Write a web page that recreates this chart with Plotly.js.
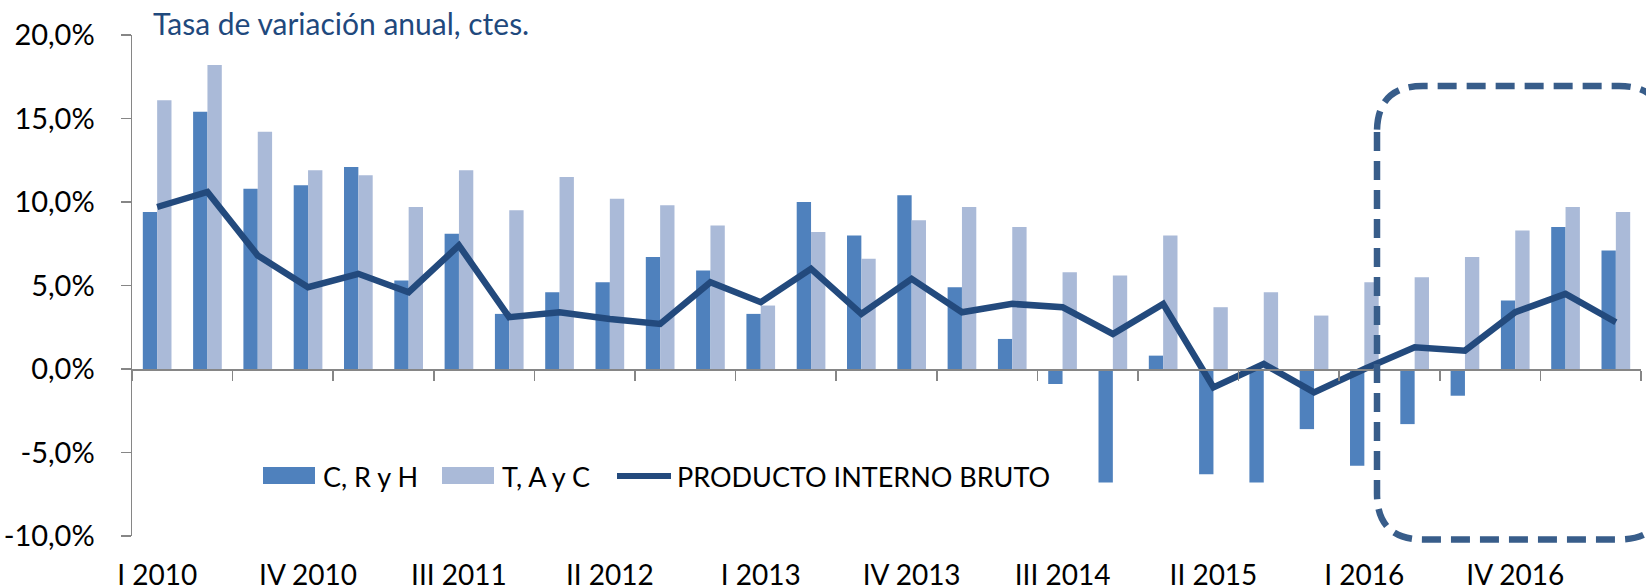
<!DOCTYPE html>
<html><head><meta charset="utf-8">
<script src="https://cdn.plot.ly/plotly-3.0.1.min.js"></script>
<style>html,body{margin:0;padding:0;background:#fff}#chart{width:1646px;height:588px}</style>
</head><body><div id="chart"></div>
<script>
const quarters = ['I 2010','II 2010','III 2010','IV 2010','I 2011','II 2011','III 2011','IV 2011',
  'I 2012','II 2012','III 2012','IV 2012','I 2013','II 2013','III 2013','IV 2013',
  'I 2014','II 2014','III 2014','IV 2014','I 2015','II 2015','III 2015','IV 2015',
  'I 2016','II 2016','III 2016','IV 2016','I 2017','II 2017'];
const cryh = [9.4,15.4,10.8,11.0,12.1,5.3,8.1,3.3,4.6,5.2,6.7,5.9,3.3,10.0,8.0,10.4,
  4.9,1.8,-0.9,-6.8,0.8,-6.3,-6.8,-3.6,-5.8,-3.3,-1.6,4.1,8.5,7.1];
const tayc = [16.1,18.2,14.2,11.9,11.6,9.7,11.9,9.5,11.5,10.2,9.8,8.6,3.8,8.2,6.6,8.9,
  9.7,8.5,5.8,5.6,8.0,3.7,4.6,3.2,5.2,5.5,6.7,8.3,9.7,9.4];
const pib = [9.7,10.6,6.8,4.9,5.7,4.6,7.4,3.1,3.4,3.0,2.7,5.2,4.0,6.0,3.3,5.4,
  3.4,3.9,3.7,2.1,3.9,-1.1,0.3,-1.4,0.0,1.3,1.1,3.4,4.5,2.8];
const seriesNames = ['C, R y H','T, A y C','PRODUCTO INTERNO BRUTO'];
const chartTitle = 'Tasa de variación anual, ctes.';
const yTickVals = [-10,-5,0,5,10,15,20];
const yTickText = ['-10,0%','-5,0%','0,0%','5,0%','10,0%','15,0%','20,0%'];
const labelEvery = 3;
const tickEvery = 2;

const colDark = '#4F81BD', colLight = '#AABAD8', colLine = '#234A7D', colBox = '#385D8A';
const axisGray = '#868686';
const FONT = 'Lato, "Open Sans", sans-serif';

const xs = quarters.map((_, i) => i);
const labelIdx = xs.filter(i => i % labelEvery === 0);
const labelTxt = labelIdx.map(i => quarters[i]);
const boundaries = [];
for (let b = -0.5; b <= quarters.length - 0.5; b += tickEvery) boundaries.push(b);

const traces = [
  {type:'bar', x: xs, y: cryh, name: seriesNames[0], marker:{color: colDark}, hoverinfo:'y'},
  {type:'bar', x: xs, y: tayc, name: seriesNames[1], marker:{color: colLight}, hoverinfo:'y'},
  {type:'scatter', mode:'lines', x: xs, y: pib, name: seriesNames[2],
   line:{color: colLine, width: 6.5}, hoverinfo:'y'}
];

// plot geometry helpers (paper coords from pixel positions)
const L = 132, R = 5, T = 35, B = 52, W = 1646, H = 588;
const pw = W - L - R, ph = H - T - B;
const px = v => (v - L) / pw;
const py = v => (H - B - v) / ph;

// legend (custom, Excel-like)
const legY = 476;
const shapes = [
  {type:'rect', xref:'paper', yref:'paper', x0:px(263), x1:px(315), y0:py(484), y1:py(467),
   fillcolor: colDark, line:{width:0}},
  {type:'rect', xref:'paper', yref:'paper', x0:px(442), x1:px(494), y0:py(484), y1:py(467),
   fillcolor: colLight, line:{width:0}},
  {type:'line', xref:'paper', yref:'paper', x0:px(617), x1:px(671), y0:py(legY), y1:py(legY),
   line:{color: colLine, width:6}}
];
// dashed rounded box highlighting the last quarters
(function(){
  const l = px(1377), r = px(1665), t = py(86), b = py(539.5);
  const rx = 46 / pw, ry = 46 / ph;
  const path = `M${l},${t-ry} L${l},${b+ry} Q${l},${b} ${l+rx},${b} L${r-rx},${b} Q${r},${b} ${r},${b+ry} ` +
    `L${r},${t-ry} Q${r},${t} ${r-rx},${t} L${l+rx},${t} Q${l},${t} ${l},${t-ry} Z`;
  shapes.push({type:'path', xref:'paper', yref:'paper', path: path,
    line:{color: colBox, width:6.5, dash:'19px,10px'}, fillcolor:'rgba(0,0,0,0)', layer:'above'});
})();

const annotations = [
  {xref:'paper', yref:'paper', x:px(321), y:py(legY), xanchor:'left', yanchor:'middle', showarrow:false,
   text: seriesNames[0], font:{family:FONT, size:27, color:'#000'}},
  {xref:'paper', yref:'paper', x:px(500), y:py(legY), xanchor:'left', yanchor:'middle', showarrow:false,
   text: seriesNames[1], font:{family:FONT, size:27, color:'#000'}},
  {xref:'paper', yref:'paper', x:px(675), y:py(legY), xanchor:'left', yanchor:'middle', showarrow:false,
   text: seriesNames[2], font:{family:FONT, size:27, color:'#000'}}
];

const layout = {
  width: W, height: H,
  margin: {l:L, r:R, t:T, b:B, pad:0},
  paper_bgcolor:'#fff', plot_bgcolor:'#fff',
  showlegend: false,
  barmode: 'group', bargap: 0.43, bargroupgap: 0,
  title: {text: chartTitle, font:{family:FONT, size:30, color:'#1F497D'},
    xref:'container', x: 153/W, xanchor:'left', yref:'container', y: 1 - 24/H, yanchor:'middle'},
  xaxis: {type:'linear', range:[-0.5, quarters.length - 0.5], anchor:'free', position: 10/30,
    showline:true, linecolor: axisGray, linewidth:1.5, showgrid:false, zeroline:false,
    tickmode:'array', tickvals: labelIdx, ticktext: labelTxt, ticks:'',
    ticklabelstandoff: 181, tickfont:{family:FONT, size:28, color:'#000'},
    minor:{tickmode:'array', tickvals: boundaries, ticks:'outside', ticklen:10,
      tickcolor: axisGray, tickwidth:1.5, showgrid:false}},
  yaxis: {range:[-10, 20], tickmode:'array', tickvals: yTickVals, ticktext: yTickText,
    showline:true, linecolor: axisGray, linewidth:1.5, ticks:'outside', ticklen:10,
    tickcolor: axisGray, tickwidth:1.5, showgrid:false, zeroline:false,
    ticklabelstandoff: 20, tickfont:{family:FONT, size:29, color:'#000'}},
  shapes: shapes,
  annotations: annotations
};

Plotly.newPlot('chart', traces, layout, {displayModeBar:false, staticPlot:true});
</script>
</body></html>
